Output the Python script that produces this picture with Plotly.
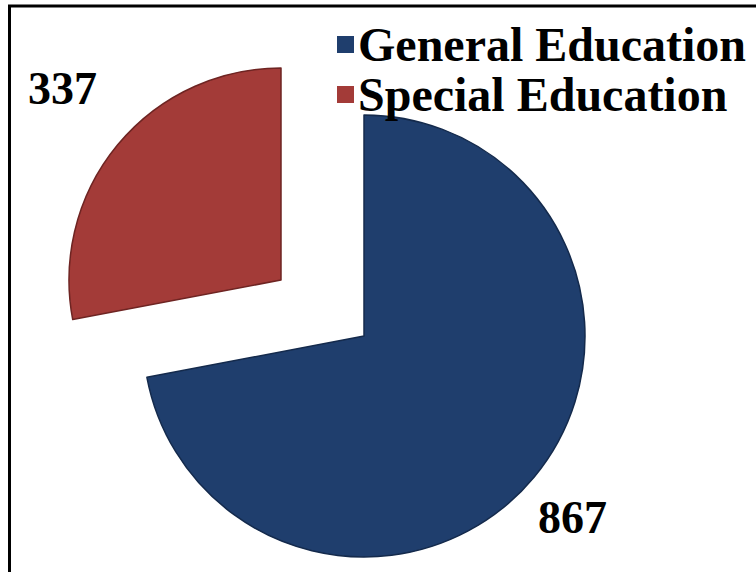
import plotly.graph_objects as go

# Enrollment split
categories = ["General Education", "Special Education"]
counts = [867, 337]
colors = ["#1f3e6d", "#a33b38"]
edge_colors = ["#142a4c", "#6e2422"]
CLEAR = "rgba(0,0,0,0)"

W, H = 756, 572


def px_x(x):
    return x / W


def px_y(y):
    return 1 - y / H


def domain_for(cx, cy, r):
    return dict(x=[px_x(cx - r), px_x(cx + r)], y=[px_y(cy + r), px_y(cy - r)])


fig = go.Figure()

# One pie trace per category, the other slice left transparent, so the
# smaller slice can be offset (exploded) by a custom amount.
layout_spec = [
    (364, 336, 221),  # main slice centre / radius
    (281, 280, 212),  # exploded slice centre / radius
]
for i, (cx, cy, r) in enumerate(layout_spec):
    fill = [colors[j] if j == i else CLEAR for j in range(len(counts))]
    line = [edge_colors[j] if j == i else CLEAR for j in range(len(counts))]
    fig.add_trace(go.Pie(
        labels=categories,
        values=counts,
        sort=False,
        direction="clockwise",
        rotation=0,
        marker=dict(colors=fill, line=dict(color=line, width=1.5)),
        textinfo="none",
        hoverinfo="skip",
        showlegend=False,
        domain=domain_for(cx, cy, r),
    ))

font_bold = dict(family="Liberation Serif", color="black")

# Value labels
label_pos = [(572, 517), (62, 88)]
for (x, y), v in zip(label_pos, counts):
    fig.add_annotation(
        x=px_x(x), y=px_y(y), xref="paper", yref="paper",
        text=f"<b>{v}</b>", showarrow=False,
        font=dict(size=46, **font_bold),
        xanchor="center", yanchor="middle",
    )

# Legend: coloured squares followed by the category names
shapes = []
legend_rows = [45, 95]
for y, name, c in zip(legend_rows, categories, colors):
    shapes.append(dict(
        type="rect", xref="paper", yref="paper",
        x0=px_x(337), x1=px_x(354), y0=px_y(y + 8), y1=px_y(y - 9),
        fillcolor=c, line=dict(color=c, width=0),
    ))
    fig.add_annotation(
        x=px_x(356), y=px_y(y), xref="paper", yref="paper",
        text=f"<b>{name}</b>", showarrow=False,
        font=dict(size=48, **font_bold),
        xanchor="left", yanchor="middle",
    )

# Frame lines along the top and left edges
shapes.append(dict(
    type="path", xref="paper", yref="paper",
    path=f"M {px_x(9.5)},{px_y(H + 5)} L {px_x(9.5)},{px_y(6)} L {px_x(W + 5)},{px_y(6)}",
    line=dict(color="black", width=3),
))

fig.update_layout(
    width=W, height=H,
    margin=dict(l=0, r=0, t=0, b=0),
    paper_bgcolor="white",
    plot_bgcolor="white",
    shapes=shapes,
)

fig.write_html("out.html")
